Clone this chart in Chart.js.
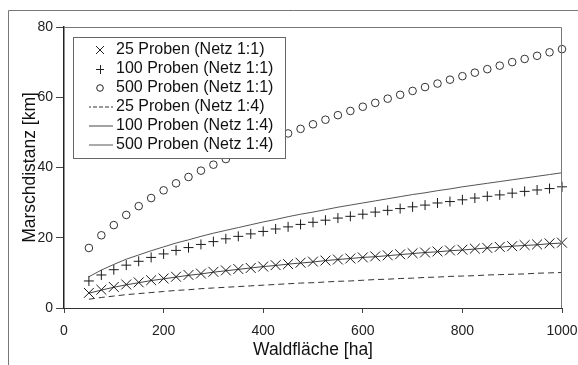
<!DOCTYPE html>
<html>
<head>
<meta charset="utf-8">
<script src="https://cdn.jsdelivr.net/npm/chart.js@4"></script>
<style>
    html, body { margin: 0; padding: 0; background: #fff; }
    #wrap { width: 578px; height: 365px; }
</style>
</head>
<body>
<div id="wrap"><canvas id="distChart" width="578" height="365"></canvas></div>
<script>
// Waldfläche [ha] of each sample point
const ha = [50, 75, 100, 125, 150, 175, 200, 225, 250, 275, 300, 325, 350, 375, 400, 425, 450, 475, 500,
    525, 550, 575, 600, 625, 650, 675, 700, 725, 750, 775, 800, 825, 850, 875, 900, 925, 950, 975, 1000];

// Marschdistanz [km]
const p25net11 = [4.3, 5.2, 6.0, 6.7, 7.3, 7.9, 8.4, 8.9, 9.4, 9.8, 10.3, 10.7, 11.1, 11.4, 11.8, 12.2, 12.5, 12.9, 13.2,
    13.5, 13.8, 14.1, 14.4, 14.7, 15.0, 15.3, 15.6, 15.8, 16.1, 16.4, 16.6, 16.9, 17.1, 17.4, 17.6, 17.9, 18.1, 18.4, 18.6];
const p100net11 = [7.7, 9.4, 10.9, 12.2, 13.3, 14.4, 15.4, 16.4, 17.2, 18.1, 18.9, 19.7, 20.4, 21.1, 21.8, 22.5, 23.1, 23.8, 24.4,
    25.0, 25.6, 26.1, 26.7, 27.3, 27.8, 28.3, 28.8, 29.3, 29.9, 30.3, 30.8, 31.3, 31.8, 32.2, 32.7, 33.2, 33.6, 34.0, 34.5];
const p500net11 = [17.1, 20.7, 23.6, 26.5, 29.0, 31.3, 33.5, 35.5, 37.3, 39.1, 40.8, 42.4, 44.0, 45.4, 46.9, 48.3, 49.7, 51.0, 52.3,
    53.6, 54.9, 56.1, 57.3, 58.4, 59.6, 60.7, 61.8, 62.9, 63.9, 65.0, 66.0, 67.0, 68.0, 69.0, 70.0, 70.9, 71.8, 72.8, 73.7];
const p25net14 = [2.5, 3.0, 3.4, 3.8, 4.1, 4.4, 4.7, 5.0, 5.2, 5.5, 5.7, 5.9, 6.1, 6.3, 6.5, 6.7, 6.9, 7.1, 7.2,
    7.4, 7.6, 7.7, 7.9, 8.1, 8.2, 8.4, 8.5, 8.7, 8.8, 9.0, 9.1, 9.2, 9.4, 9.5, 9.6, 9.7, 9.9, 10.0, 10.1];
const p100net14 = [4.2, 5.1, 5.9, 6.6, 7.2, 7.8, 8.3, 8.8, 9.3, 9.7, 10.2, 10.6, 11.0, 11.4, 11.8, 12.1, 12.5, 12.8, 13.1,
    13.5, 13.8, 14.1, 14.4, 14.6, 14.9, 15.2, 15.5, 15.8, 16.0, 16.3, 16.5, 16.8, 17.1, 17.3, 17.6, 17.8, 18.0, 18.3, 18.5];
const p500net14 = [8.9, 10.8, 12.4, 13.9, 15.1, 16.3, 17.4, 18.5, 19.4, 20.4, 21.3, 22.1, 22.9, 23.7, 24.5, 25.2, 26.0, 26.7, 27.3,
    28.0, 28.7, 29.3, 29.9, 30.5, 31.1, 31.7, 32.3, 32.8, 33.4, 33.9, 34.5, 35.0, 35.5, 36.0, 36.5, 37.0, 37.5, 38.0, 38.5];

const seriesNames = [
    '25 Proben (Netz 1:1)', '100 Proben (Netz 1:1)', '500 Proben (Netz 1:1)',
    '25 Proben (Netz 1:4)', '100 Proben (Netz 1:4)', '500 Proben (Netz 1:4)'
];

const FONT = '"Liberation Sans", Arial, sans-serif';
Chart.defaults.font.family = FONT;

function toPoints(values) {
    return ha.map((x, i) => ({ x: x, y: values[i] }));
}

// small symbol samples for the legend
function makeIcon(w, h, draw) {
    const c = document.createElement('canvas');
    c.width = w;
    c.height = h;
    const g = c.getContext('2d');
    g.strokeStyle = '#222';
    g.lineWidth = 1;
    draw(g);
    return c;
}
function lineIcon(dash, color) {
    return makeIcon(26, 3, g => {
        g.strokeStyle = color;
        g.setLineDash(dash);
        g.beginPath();
        g.moveTo(0, 1.5);
        g.lineTo(26, 1.5);
        g.stroke();
    });
}
const legendIcons = [
    makeIcon(10, 10, g => {
        g.beginPath();
        g.moveTo(1, 1); g.lineTo(9, 9);
        g.moveTo(9, 1); g.lineTo(1, 9);
        g.stroke();
    }),
    makeIcon(10, 10, g => {
        g.beginPath();
        g.moveTo(1, 5.5); g.lineTo(9, 5.5);
        g.moveTo(5.5, 1); g.lineTo(5.5, 10);
        g.stroke();
    }),
    makeIcon(10, 10, g => {
        g.beginPath();
        g.arc(5, 5, 3.3, 0, Math.PI * 2);
        g.stroke();
    }),
    lineIcon([4, 2], '#333'),
    lineIcon([], '#444'),
    lineIcon([], '#555')
];

const markerColor = '#1a1a1a';

const data = {
    datasets: [{
        label: seriesNames[0],
        data: toPoints(p25net11),
        pointStyle: 'crossRot',
        pointRadius: 7,
        borderColor: markerColor,
        backgroundColor: markerColor,
        pointBorderWidth: 1
    }, {
        label: seriesNames[1],
        data: toPoints(p100net11),
        pointStyle: 'cross',
        pointRadius: 5,
        borderColor: markerColor,
        backgroundColor: markerColor,
        pointBorderWidth: 1
    }, {
        label: seriesNames[2],
        data: toPoints(p500net11),
        pointStyle: 'circle',
        pointRadius: 3.8,
        borderColor: '#333',
        backgroundColor: 'rgba(0,0,0,0)',
        pointBorderWidth: 1
    }, {
        label: seriesNames[3],
        data: toPoints(p25net14),
        showLine: true,
        pointRadius: 0,
        borderColor: '#333',
        borderWidth: 1,
        borderDash: [6, 4]
    }, {
        label: seriesNames[4],
        data: toPoints(p100net14),
        showLine: true,
        pointRadius: 0,
        borderColor: '#444',
        borderWidth: 1
    }, {
        label: seriesNames[5],
        data: toPoints(p500net14),
        showLine: true,
        pointRadius: 0,
        borderColor: '#555',
        borderWidth: 1
    }]
};

// frames, plot box and a legend that sits on top of the data
const framePlugin = {
    id: 'frames',
    afterLayout(chart) {
        // put the legend where it sits in the original
        const lg = chart.legend;
        lg.left = 89;
        lg.right = 89 + lg.width;
        lg.top = 39;
        lg.bottom = 260;
    },
    beforeDraw(chart) {
        const ctx = chart.ctx;
        ctx.save();
        ctx.fillStyle = '#fff';
        ctx.fillRect(0, 0, chart.width, chart.height);
        ctx.restore();
    },
    afterDatasetsDraw(chart) {
        const ctx = chart.ctx;
        const a = chart.chartArea;
        ctx.save();
        ctx.strokeStyle = '#777';
        ctx.lineWidth = 1;
        // outer frame (left and top only)
        ctx.beginPath();
        ctx.moveTo(8.5, chart.height);
        ctx.lineTo(8.5, 10.5);
        ctx.lineTo(chart.width, 10.5);
        ctx.stroke();
        // plot box top and right
        ctx.beginPath();
        ctx.moveTo(a.left, a.top + 0.5);
        ctx.lineTo(a.right - 0.5, a.top + 0.5);
        ctx.lineTo(a.right - 0.5, a.bottom);
        ctx.stroke();

        // legend box
        const lg = chart.legend;
        const boxes = lg.legendHitBoxes;
        let right = 0;
        boxes.forEach(b => { right = Math.max(right, b.left + b.width); });
        const x0 = boxes[0].left - 19;
        const y0 = boxes[0].top - 5;
        const last = boxes[boxes.length - 1];
        const y1 = last.top + last.height + 5;
        const x1 = right + 12;
        ctx.fillStyle = '#fff';
        ctx.fillRect(x0, y0, x1 - x0, y1 - y0);
        ctx.strokeStyle = '#666';
        ctx.strokeRect(Math.round(x0) + 0.5, Math.round(y0) + 0.5, Math.round(x1 - x0), Math.round(y1 - y0));
        ctx.restore();
        lg.draw();
    }
};

const config = {
    type: 'scatter',
    data: data,
    options: {
        responsive: false,
        animation: false,
        events: [],
        layout: {
            padding: { left: 0, top: 27, right: 16, bottom: 0 }
        },
        datasets: {
            scatter: { clip: false }
        },
        plugins: {
            tooltip: { enabled: false },
            legend: {
                position: 'chartArea',
                align: 'start',
                labels: {
                    usePointStyle: true,
                    boxHeight: 6,
                    boxWidth: 16,
                    padding: 3,
                    color: '#111',
                    font: { family: FONT, size: 16 },
                    generateLabels(chart) {
                        const items = Chart.defaults.plugins.legend.labels.generateLabels(chart);
                        items.forEach((it, i) => {
                            if (legendIcons[i]) it.pointStyle = legendIcons[i];
                        });
                        return items;
                    }
                }
            }
        },
        scales: {
            x: {
                type: 'linear',
                min: 0,
                max: 1000,
                ticks: {
                    stepSize: 200, color: '#222', font: { size: 14 }, padding: 10,
                    callback: v => String(v)
                },
                grid: { drawOnChartArea: false, tickLength: 5, color: '#444' },
                border: { color: '#333', width: 1 },
                title: {
                    display: true,
                    text: 'Waldfläche [ha]',
                    color: '#111',
                    font: { size: 17.5 },
                    padding: { top: 0, bottom: 4 }
                },
                afterFit(scale) {
                    scale.height = 57;
                    scale.paddingLeft = 0;
                    scale.paddingRight = 0;
                }
            },
            y: {
                min: 0,
                max: 80,
                ticks: { stepSize: 20, color: '#222', font: { size: 14 }, padding: 3 },
                grid: { drawOnChartArea: false, tickLength: 8, color: '#444' },
                border: { color: '#222', width: 1.5 },
                title: {
                    display: true,
                    text: 'Marschdistanz [km]',
                    color: '#111',
                    font: { size: 17.5 },
                    padding: { top: 20, bottom: 0 }
                },
                afterFit(scale) { scale.width = 64; }
            }
        }
    },
    plugins: [framePlugin]
};

const ctx = document.getElementById('distChart').getContext('2d');
new Chart(ctx, config);
</script>
</body>
</html>
